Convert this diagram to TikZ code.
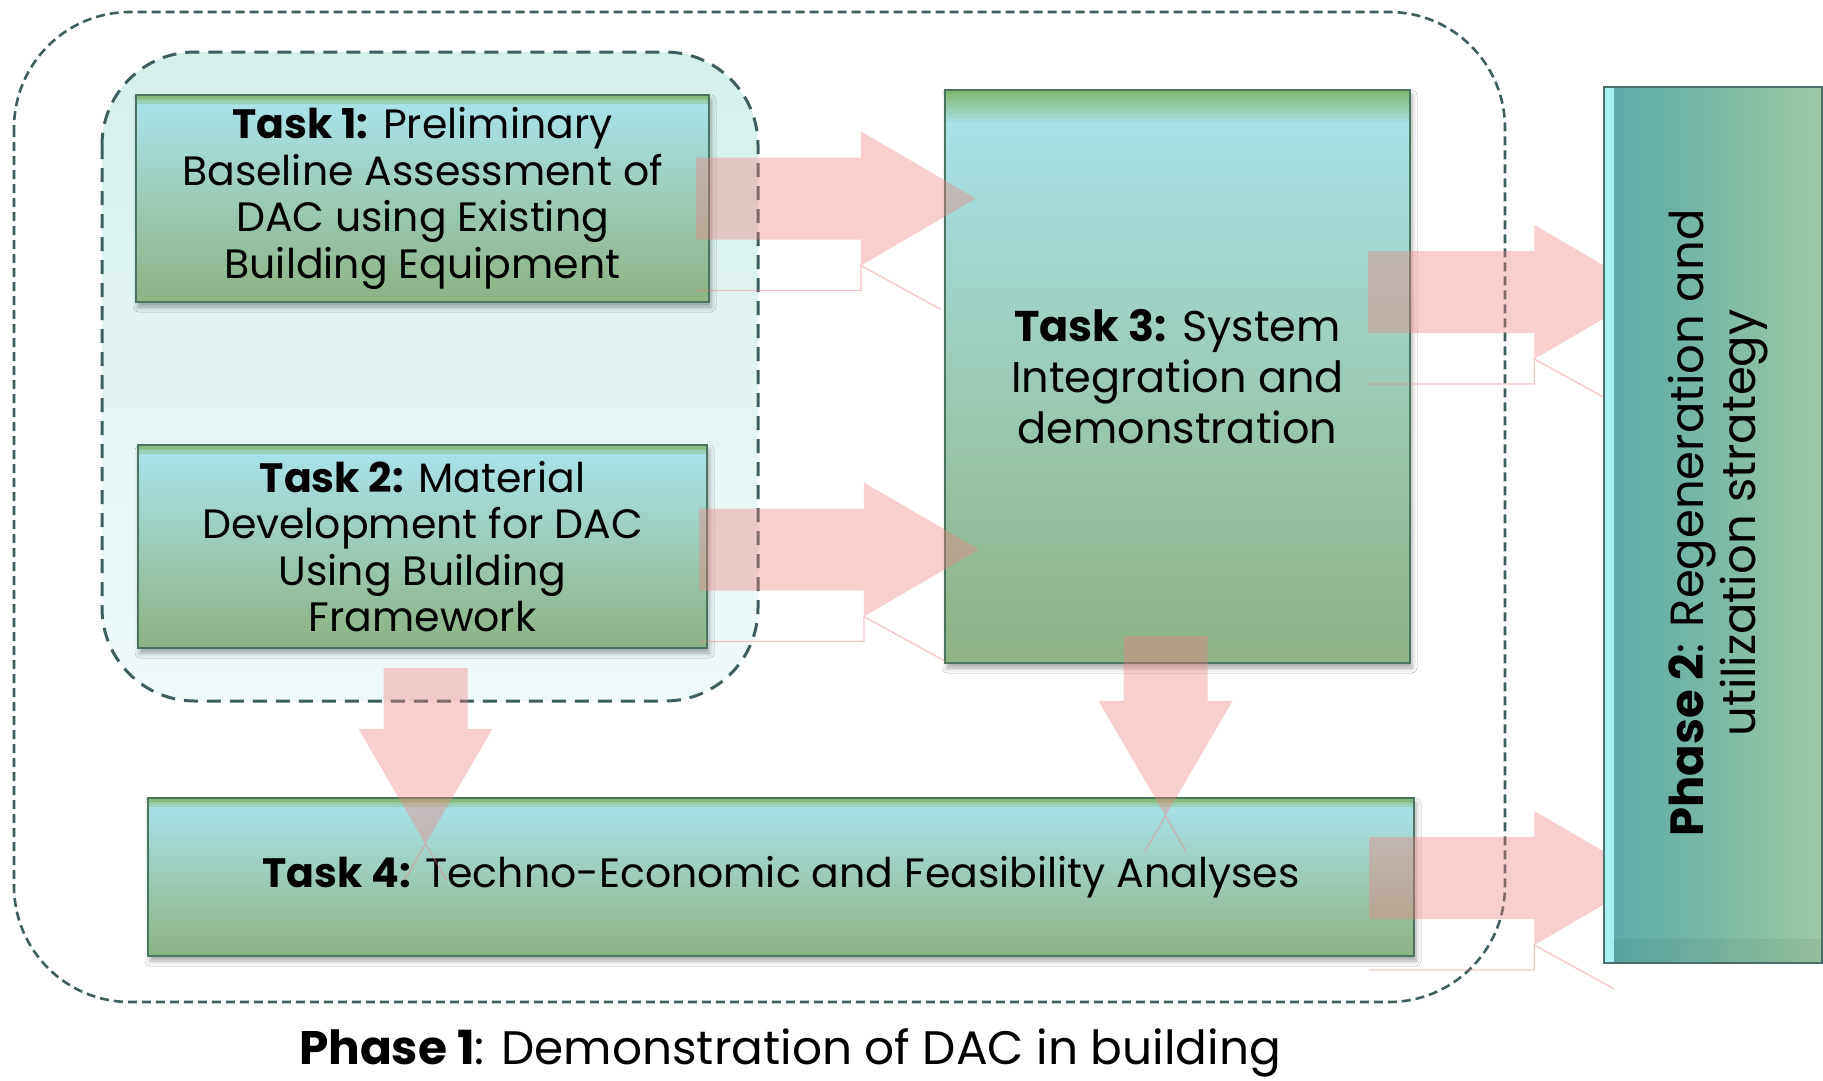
\documentclass[tikz,border=0pt]{standalone}
\usepackage{fontspec}
\setmainfont{Poppins}
\usetikzlibrary{calc,shadows.blur}
\definecolor{dashc}{HTML}{3E5E60}
\definecolor{boxT}{HTML}{AAE4EC}
\definecolor{boxB}{HTML}{8DB384}
\definecolor{bandG}{HTML}{80B468}
\definecolor{boxline}{HTML}{4A7560}
\definecolor{innerT}{HTML}{D4F0EB}
\definecolor{innerB}{HTML}{F0F9FA}
\definecolor{arrc}{HTML}{F08080}
\definecolor{p2L}{HTML}{5AA9A7}
\definecolor{p2R}{HTML}{9CC9A4}
\definecolor{p2line}{HTML}{4A6E6A}
\definecolor{p2bev}{HTML}{A8F4F4}
\pgfdeclarelayer{front}
\pgfsetlayers{main,front}
\tikzset{
  taskbox/.style={draw=boxline, line width=2.2, top color=boxT, bottom color=boxB,
    align=center, inner sep=0pt, font=\fontsize{41}{46.5}\selectfont,
    blur shadow={shadow xshift=2pt, shadow yshift=-5pt, shadow blur radius=5pt, shadow opacity=35}},
  band/.style={path picture={
    \foreach \k in {0,...,11}{
      \fill[bandG, fill opacity={0.95*(1-\k/12)}]
        ($(path picture bounding box.north west)+(0,{\k*#1/12})$) rectangle
        ($(path picture bounding box.north east)+(0,{(\k+1)*#1/12})$);}
    }},
  p2box/.style={draw=p2line, line width=1.5, left color=p2L, right color=p2R, inner sep=0pt,
    path picture={
      \fill[left color=p2bev, right color=p2L] (path picture bounding box.north west) rectangle ($(path picture bounding box.south west)+(10,0)$);
      \fill[black, fill opacity=0.05] ($(path picture bounding box.south west)+(10,-24)$) rectangle (path picture bounding box.south east);
    }},
  arr/.style={fill=arrc, fill opacity=0.38},
  refl/.style={draw=arrc, draw opacity=0.45, line width=1.3},
  dashbox/.style={draw=dashc, line width=3},
}
\newcommand\blkR[2]{%
  \fill[arr] ($(#1)+(0,-41)$) -- ($(#2)+(-115,-41)$) -- ($(#2)+(-115,-67)$) -- (#2)
    -- ($(#2)+(-115,67)$) -- ($(#2)+(-115,41)$) -- ($(#1)+(0,41)$) -- cycle;
  \draw[refl] ($(#1)+(0,92)$) -- ($(#2)+(-115,92)$) -- ($(#2)+(-115,67)$) -- ($(#2)+(-35,111)$);
}
\newcommand\blkD[2]{%
  \fill[arr] ($(#1)+(-42,0)$) -- ($(#2)+(-42,-115)$) -- ($(#2)+(-67,-115)$) -- (#2)
    -- ($(#2)+(67,-115)$) -- ($(#2)+(42,-115)$) -- ($(#1)+(42,0)$) -- cycle;
  \draw[refl] ($(#2)+(-21,36)$) -- (#2) -- ($(#2)+(21,36)$);
}
\begin{document}
\begin{tikzpicture}[x=1pt,y=-1pt]
\useasboundingbox (0,0) rectangle (1823,1080);
\fill[white] (0,0) rectangle (1823,1080);

% group regions
\path[dashbox, dash pattern=on 14pt off 9pt, top color=innerT, bottom color=innerB, rounded corners=93pt]
  (102,52) rectangle (758,701);
\draw[dashbox, line width=2.6, dash pattern=on 9pt off 5pt, rounded corners=116pt]
  (14,12) rectangle (1505,1002);

% task boxes
\node[taskbox, band=10, minimum width=573, minimum height=207] (t1) at (422.5,198.5)
  {\textbf{Task 1:} Preliminary\\Baseline Assessment of\\DAC using Existing\\Building Equipment};
\node[taskbox, band=10, minimum width=569, minimum height=203] (t2) at (422.5,546.5)
  {\textbf{Task 2:} Material\\Development for DAC\\Using Building\\Framework};
\node[taskbox, band=32, minimum width=465, minimum height=573, font=\fontsize{43}{51}\selectfont] (t3) at (1177.5,376.5)
  {\textbf{Task 3:} System\\Integration and\\demonstration};
\node[taskbox, band=10, minimum width=1266, minimum height=158] (t4) at (781,877)
  {\textbf{Task 4:} Techno-Economic and Feasibility Analyses};

% phase 2 box (front layer)
\begin{pgfonlayer}{front}
\node[p2box, minimum width=218, minimum height=876] (p2) at (1713,525) {};
\node[rotate=90, align=center, inner sep=0pt, font=\fontsize{46.5}{52}\selectfont] (p2txt) at (1718,523)
  {\textbf{Phase 2}: Regeneration and\\utilization strategy};
\end{pgfonlayer}

% arrow anchor coordinates
\coordinate (a1s) at ($(t1.east)+(-14,0)$);
\coordinate (a1t) at ($(t3.west |- a1s)+(32,0)$);
\coordinate (a2s) at ($(t2.east)+(-9,3)$);
\coordinate (a2t) at ($(t3.west |- a2s)+(35,0)$);
\coordinate (a3s) at ($(t3.east)+(-43,-84.5)$);
\coordinate (a3t) at ($(p2.west |- a3s)+(46,0)$);
\coordinate (a4s) at ($(t4.east)+(-46,1)$);
\coordinate (a4t) at ($(p2.west |- a4s)+(46,0)$);
\coordinate (d1s) at ($(t2.south)+(3,19)$);
\coordinate (d1t) at ($(t4.north -| d1s)+(0,47)$);
\coordinate (d2s) at ($(t3.south)+(-12,-28)$);
\coordinate (d2t) at ($(t4.north -| d2s)+(0,19)$);

\blkR{a1s}{a1t}
\blkR{a2s}{a2t}
\blkR{a3s}{a3t}
\blkR{a4s}{a4t}
\blkD{d1s}{d1t}
\blkD{d2s}{d2t}

% phase 1 caption
\node[anchor=base, inner sep=0pt, font=\fontsize{47}{55}\selectfont] (ph1) at (790,1064)
  {\textbf{Phase 1}: Demonstration of DAC in building};
\end{tikzpicture}
\end{document}
